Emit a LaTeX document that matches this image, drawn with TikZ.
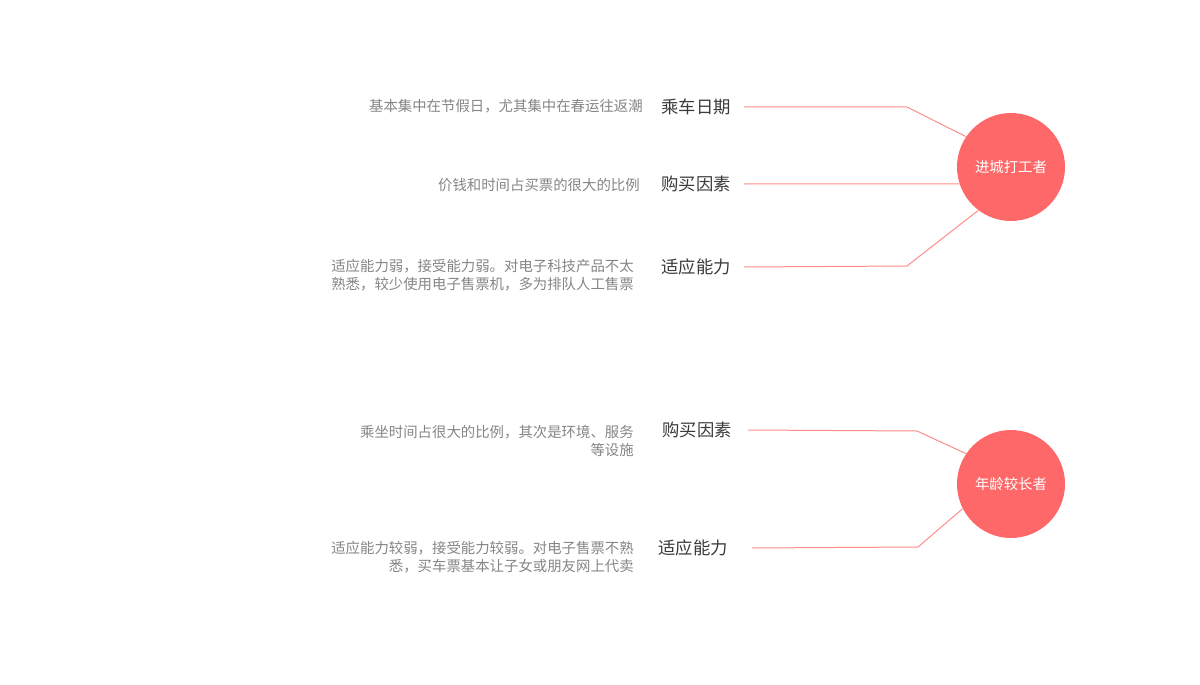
\documentclass[tikz,border=0pt]{standalone}
\usepackage{fontspec}
\setmainfont{Noto Sans CJK SC}
\definecolor{circ}{HTML}{FF6868}
\definecolor{conn}{HTML}{FF8C8C}
\definecolor{desc}{HTML}{858585}
\definecolor{lab}{HTML}{3A3A3A}
\begin{document}
\begin{tikzpicture}[x=0.75pt,y=-0.75pt,
  hub/.style={circle,fill=circ,draw=none,minimum size=81pt,inner sep=0pt,text=white,font=\fontsize{10.8pt}{13pt}\selectfont},
  lbl/.style={inner sep=0pt,text=lab,font=\fontsize{13pt}{15pt}\selectfont},
  dsc/.style={inner sep=0pt,text=desc,align=right,font=\fontsize{10.8pt}{13pt}\selectfont},
  conn/.style={draw=conn,line width=0.75pt}]
\useasboundingbox (0,0) rectangle (1200,685);
% hubs
\node[hub] (c1) at (1011,167) {进城打工者};
\node[hub] (c2) at (1011,484) {年龄较长者};
% labels group 1
\node[lbl,anchor=east] (l1) at (731,107) {乘车日期};
\node[lbl,anchor=east] (l2) at (731,184) {购买因素};
\node[lbl,anchor=east] (l3) at (731,267) {适应能力};
% labels group 2
\node[lbl,anchor=east] (l4) at (732,430) {购买因素};
\node[lbl,anchor=east] (l5) at (728,548) {适应能力};
% descriptions
\node[dsc,anchor=east] (d1) at (643,106) {基本集中在节假日，尤其集中在春运往返潮};
\node[dsc,anchor=east] (d2) at (640,185) {价钱和时间占买票的很大的比例};
\node[dsc,anchor=east] (d3) at (634,275) {适应能力弱，接受能力弱。对电子科技产品不太\\熟悉，较少使用电子售票机，多为排队人工售票};
\node[dsc,anchor=east] (d4) at (634,441) {乘坐时间占很大的比例，其次是环境、服务\\等设施};
\node[dsc,anchor=east] (d5) at (634,557) {适应能力较弱，接受能力较弱。对电子售票不熟\\悉，买车票基本让子女或朋友网上代卖};
% connectors
\draw[conn] ([xshift=9.75pt]l1.east) -- (907,107) -- (c1.146);
\draw[conn] ([xshift=9.75pt]l2.east) -- (c1.198);
\draw[conn] ([xshift=9.75pt]l3.east) -- (907,266) -- (c1.233);
\draw[conn] ([xshift=12pt]l4.east) -- (917,431) -- (c2.146);
\draw[conn] ([xshift=18pt]l5.east) -- (918,547) -- (c2.207);
\end{tikzpicture}
\end{document}
